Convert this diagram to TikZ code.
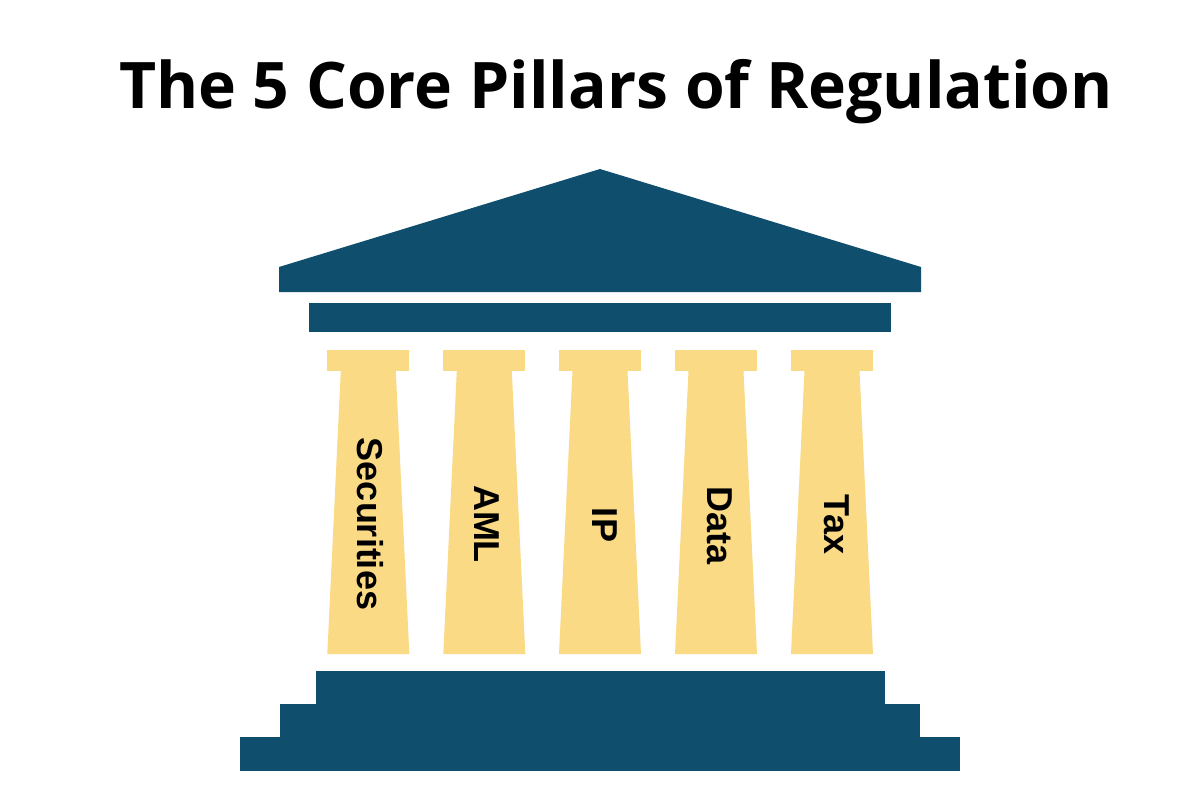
\documentclass[tikz,border=0pt]{standalone}
\usepackage{fontspec}
\setmainfont{Open Sans}
\newfontfamily\labelfont{Liberation Sans}
\definecolor{navy}{HTML}{0F4E6D}
\definecolor{sand}{HTML}{FBDA85}
\tikzset{
  navyfill/.style={fill=navy,draw=none},
  sandfill/.style={fill=sand,draw=none},
  pillarlabel/.style={rotate=-90,font=\labelfont\bfseries\fontsize{36}{40}\selectfont,text=black,inner sep=0pt,anchor=base}
}
\begin{document}
\begin{tikzpicture}[x=1pt,y=1pt]
\useasboundingbox (0,0) rectangle (1200,-800);
\fill[white] (0,0) rectangle (1200,-800);
\node[inner sep=0pt,anchor=base,font=\bfseries\fontsize{64.2}{70}\selectfont] (title) at (616,-109) {The 5 Core Pillars of Regulation};
\fill[navyfill] (600,-169) -- (921,-267) -- (921,-292) -- (279,-292) -- (279,-267) -- cycle;
\fill[navyfill] (309,-303) rectangle (891,-332);
\foreach \x in {368.3,484.3,600,716,832}{
  \fill[sandfill] (\x-41,-350) rectangle (\x+41,-371);
  \fill[sandfill] (\x-27.5,-371) -- (\x+27.5,-371) -- (\x+41,-654) -- (\x-41,-654) -- cycle;
}
\node[pillarlabel] (p1) at (357,-524) {Securities};
\node[pillarlabel] (p2) at (474,-524) {AML};
\node[pillarlabel] (p3) at (592,-525) {IP};
\node[pillarlabel] (p4) at (707,-526) {Data};
\node[pillarlabel] (p5) at (824,-524.5) {Tax};
\fill[navyfill] (316,-671) rectangle (885,-705);
\fill[navyfill] (280,-704) rectangle (920,-738);
\fill[navyfill] (240,-737) rectangle (960,-771);
\end{tikzpicture}
\end{document}
